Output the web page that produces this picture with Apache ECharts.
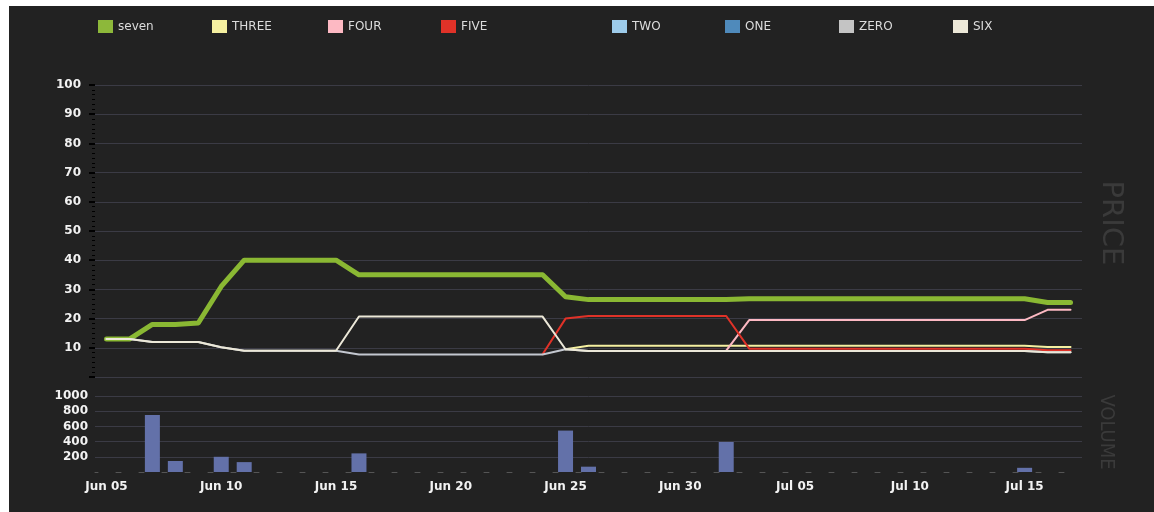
<!DOCTYPE html>
<html>
<head>
<meta charset="utf-8">
<style>
html,body{margin:0;padding:0;background:#ffffff;width:1154px;height:512px;overflow:hidden;}
#chart{position:absolute;left:9px;top:6px;width:1145px;height:506px;background:#222222;}
</style>
<script src="https://cdn.jsdelivr.net/npm/echarts@6/dist/echarts.min.js"></script>
</head>
<body>
<div id="chart"></div>
<script>
const dates = ["Jun 05","Jun 06","Jun 07","Jun 08","Jun 09","Jun 10","Jun 11","Jun 12","Jun 13","Jun 14",
"Jun 15","Jun 16","Jun 17","Jun 18","Jun 19","Jun 20","Jun 21","Jun 22","Jun 23","Jun 24",
"Jun 25","Jun 26","Jun 27","Jun 28","Jun 29","Jun 30","Jul 01","Jul 02","Jul 03","Jul 04",
"Jul 05","Jul 06","Jul 07","Jul 08","Jul 09","Jul 10","Jul 11","Jul 12","Jul 13","Jul 14",
"Jul 15","Jul 16","Jul 17"];

const seriesNames = ["seven","THREE","FOUR","FIVE","TWO","ONE","ZERO","SIX"];
const seriesColors = ["#8ab833","#f5f0a0","#fdb9c3","#e03228","#9dcbea","#4f8abb","#c4c8d0","#ece8d8"];
const legendIconColors = ["#8db83a","#f5f0a0","#fdb9c3","#e03228","#9dcbea","#4f8abb","#c4c4c4","#ece8d8"];

const seven = [13,13,18,18,18.5,31,40,40,40,40,
40,35,35,35,35,35,35,35,35,35,
27.5,26.5,26.5,26.5,26.5,26.5,26.5,26.5,26.8,26.8,
26.8,26.8,26.8,26.8,26.8,26.8,26.8,26.8,26.8,26.8,
26.8,25.5,25.5];
const three = [null,null,null,null,null,null,null,null,null,null,
null,null,null,null,null,null,null,null,null,null,
9.5,10.7,10.7,10.7,10.7,10.7,10.7,10.7,10.7,10.7,
10.7,10.7,10.7,10.7,10.7,10.7,10.7,10.7,10.7,10.7,
10.7,10.3,10.3];
const four = [null,null,null,null,null,null,null,null,null,null,
null,null,null,null,null,null,null,null,null,null,
null,null,null,null,null,null,null,9.0,19.5,19.5,
19.5,19.5,19.5,19.5,19.5,19.5,19.5,19.5,19.5,19.5,
19.5,23,23];
const five = [null,null,null,null,null,null,null,null,null,null,
null,null,null,null,null,null,null,null,null,7.8,
20,20.9,20.9,20.9,20.9,20.9,20.9,20.9,9.7,9.7,
9.7,9.7,9.7,9.7,9.7,9.7,9.7,9.7,9.7,9.7,
9.7,9.2,9.2];
const two = [];
const one = [];
const zero = [13,13,12,12,12,10.2,9,9,9,9,
9,7.7,7.7,7.7,7.7,7.7,7.7,7.7,7.7,7.7,
9.5,8.9,8.9,8.9,8.9,8.9,8.9,8.9,8.9,8.9,
8.9,8.9,8.9,8.9,8.9,8.9,8.9,8.9,8.9,8.9,
8.9,8.5,8.5];
const six = [13,13,12,12,12,10.2,9,9,9,9,
9,20.7,20.7,20.7,20.7,20.7,20.7,20.7,20.7,20.7,
9.5,8.9,8.9,8.9,8.9,8.9,8.9,8.9,8.9,8.9,
8.9,8.9,8.9,8.9,8.9,8.9,8.9,8.9,8.9,8.9,
8.9,8.5,8.5];
const volume = [0,0,750,145,0,200,130,0,0,0,
0,245,0,0,0,0,0,0,0,0,
545,70,0,0,0,0,0,395,0,0,
0,0,0,0,0,0,0,0,0,0,
55,0,0];

const priceTicks = [0,10,20,30,40,50,60,70,80,90,100];
const volumeTicks = [0,200,400,600,800,1000];

const lineData = [seven,three,four,five,two,one,zero,six];

const chart = echarts.init(document.getElementById('chart'), null, {renderer:'canvas'});
const gridColor = '#3b3b45';
const labelColor = '#f2f2f2';
const font = 'DejaVu Sans';

const series = seriesNames.map((name,i)=>({
  name: name,
  type: 'line',
  xAxisIndex: 0,
  yAxisIndex: 0,
  data: lineData[i],
  showSymbol: false,
  symbol: 'none',
  color: legendIconColors[i],
  lineStyle: {width: i===0 ? 5 : 2, color: seriesColors[i], cap: 'round', join: 'round'},
  connectNulls: false,
  z: 2 + i
}));
series.push({
  name: 'VOLUME',
  type: 'bar',
  xAxisIndex: 1,
  yAxisIndex: 1,
  data: volume,
  barWidth: 15,
  itemStyle: {color: '#6371a9'}
});

const legendLeft = [84, 198, 314, 427, 598, 711, 825, 939];
const legends = seriesNames.map((name,i)=>({
  data: [name],
  left: legendLeft[i],
  top: 9,
  itemWidth: 15,
  itemHeight: 13,
  itemGap: 0,
  icon: 'rect',
  selectedMode: false,
  textStyle: {color: '#dcdcdc', fontFamily: font, fontSize: 12}
}));

const option = {
  animation: false,
  backgroundColor: '#222222',
  legend: legends,
  grid: [
    {left: 86, width: 987, top: 79, height: 292},
    {left: 86, width: 987, top: 390, height: 76}
  ],
  xAxis: [
    {type: 'category', gridIndex: 0, data: dates, boundaryGap: true,
     axisLine: {show: false}, axisTick: {show: false}, axisLabel: {show: false}, splitLine: {show: false}},
    {type: 'category', gridIndex: 1, data: dates, boundaryGap: true,
     axisLine: {show: true, onZero: false, lineStyle: {color: '#555555', width: 1, type: [5,18], dashOffset: 2}},
     axisTick: {show: false},
     axisLabel: {show: true, interval: 4, color: labelColor, fontFamily: font, fontSize: 12, fontWeight: 'bold', margin: 9},
     splitLine: {show: false}}
  ],
  yAxis: [
    {type: 'value', gridIndex: 0, min: priceTicks[0], max: priceTicks[priceTicks.length-1], interval: 10,
     axisLine: {show: false},
     axisTick: {show: true, length: 6, lineStyle: {color: '#000000', width: 2}},
     minorTick: {show: true, splitNumber: 6, length: 3, lineStyle: {color: '#000000', width: 1}},
     axisLabel: {color: labelColor, fontFamily: font, fontSize: 12, fontWeight: 'bold', margin: 14,
       formatter: v => v === 0 ? '' : String(v)},
     splitLine: {show: true, lineStyle: {color: gridColor, width: 1}}},
    {type: 'value', gridIndex: 1, min: volumeTicks[0], max: volumeTicks[volumeTicks.length-1], interval: 200,
     axisLine: {show: false}, axisTick: {show: false},
     axisLabel: {color: labelColor, fontFamily: font, fontSize: 12, fontWeight: 'bold', margin: 7,
       formatter: v => v === 0 ? '' : String(v)},
     splitLine: {show: true, lineStyle: {color: ['rgba(0,0,0,0)', gridColor, gridColor, gridColor, gridColor, gridColor], width: 1}}}
  ],
  graphic: [
    {type: 'text', x: 1102, y: 217, rotation: -Math.PI/2,
     style: {text: 'PRICE', fill: '#3a3a3a', font: '29px "DejaVu Sans"', textAlign: 'center', textVerticalAlign: 'middle'}},
    {type: 'text', x: 1097, y: 426, rotation: -Math.PI/2,
     style: {text: 'VOLUME', fill: '#3a3a3a', font: '20px "Liberation Sans Narrow", "DejaVu Sans Condensed", "DejaVu Sans"', textAlign: 'center', textVerticalAlign: 'middle'}}
  ],
  series: series
};
chart.setOption(option);
</script>
</body>
</html>
